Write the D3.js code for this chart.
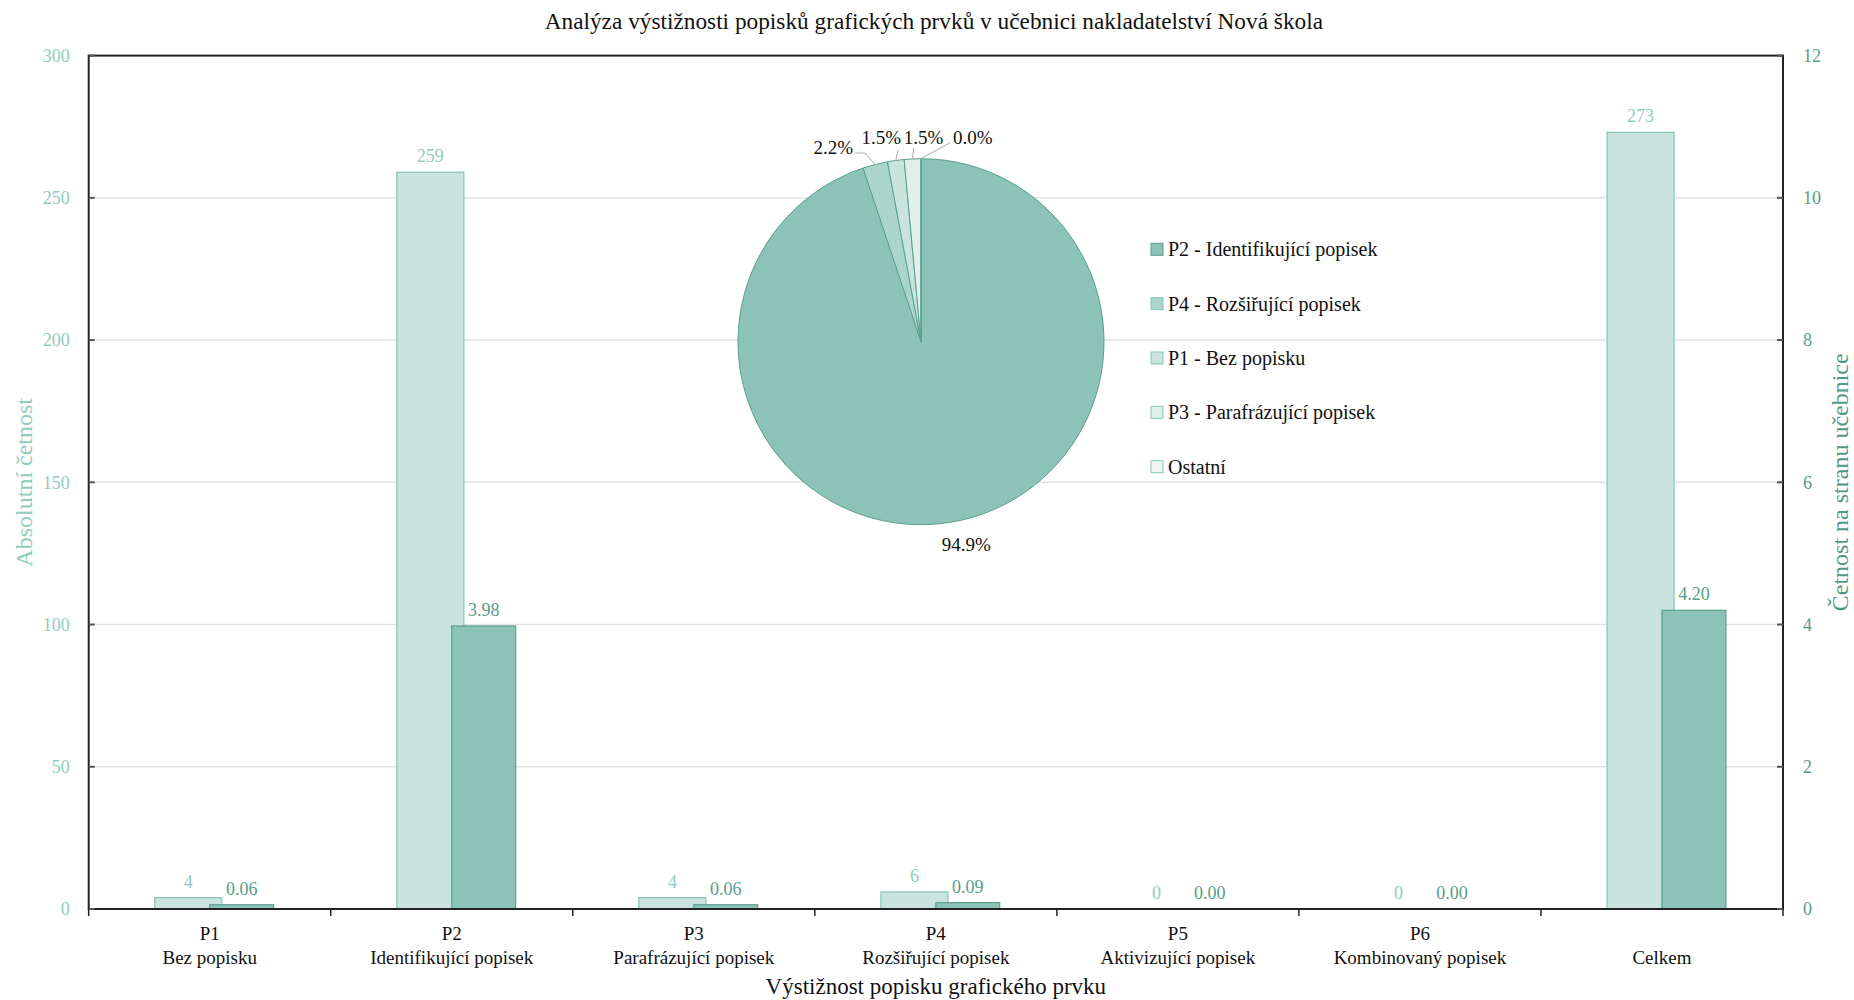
<!DOCTYPE html>
<html>
<head>
<meta charset="utf-8">
<script src="https://cdn.jsdelivr.net/npm/d3@7"></script>
<style>
  html, body { margin: 0; padding: 0; background: #ffffff; }
  svg { display: block; font-family: "Liberation Serif", "DejaVu Serif", serif; }
</style>
</head>
<body>
<svg id="chart" width="1854" height="1000"></svg>
<script>
// ---------------- DATA ----------------
const codes = ["P1", "P2", "P3", "P4", "P5", "P6", ""];
const names = ["Bez popisku", "Identifikující popisek", "Parafrázující popisek", "Rozšiřující popisek", "Aktivizující popisek", "Kombinovaný popisek", "Celkem"];
const absCounts = [4, 259, 4, 6, 0, 0, 273];
const perPage = [0.06, 3.98, 0.06, 0.09, 0.00, 0.00, 4.20];
const leftTicks = [0, 50, 100, 150, 200, 250, 300];
const rightTicks = [0, 2, 4, 6, 8, 10, 12];

const pieLabels = ["P2 - Identifikující popisek", "P4 - Rozšiřující popisek", "P1 - Bez popisku", "P3 - Parafrázující popisek", "Ostatní"];
const pieValues = [259, 6, 4, 4, 0];

const title = "Analýza výstižnosti popisků grafických prvků v učebnici nakladatelství Nová škola";
const xTitle = "Výstižnost popisku grafického prvku";
const yLeftTitle = "Absolutní četnost";
const yRightTitle = "Četnost na stranu učebnice";

// ---------------- STYLE ----------------
const W = 1854, H = 1000;
const M = { left: 88.7, right: 71, top: 55.6, bottom: 91 };
const lightFill = "#c9e4de", lightStroke = "#86c5b5", lightText = "#90cbbd";
const darkFill = "#8bc4b6", darkStroke = "#5b9f8c", darkText = "#579c89";
const pieColors = ["#8bc4b6", "#abd5ca", "#c8e4dd", "#dff0eb", "#eef7f4"];
const gridColor = "#e2e2e2";

const svg = d3.select("#chart");
const x0 = M.left, x1 = W - M.right, yTop = M.top, yBot = H - M.bottom;

const x = d3.scaleBand().domain(d3.range(codes.length)).range([x0, x1]).padding(0);
const yL = d3.scaleLinear().domain([0, 300]).range([yBot, yTop]);
const yR = d3.scaleLinear().domain([0, 12]).range([yBot, yTop]);
const bw = x.bandwidth();
const lightOff = -0.227 * bw, lightW = 0.277 * bw;
const darkOff = 0, darkW = 0.264 * bw;

// gridlines
svg.append("g").selectAll("line").data(leftTicks.filter(t => t > 0 && t < 300)).join("line")
  .attr("x1", x0).attr("x2", x1)
  .attr("y1", d => yL(d)).attr("y2", d => yL(d))
  .attr("stroke", gridColor).attr("stroke-width", 1.5);

// bars
const center = i => x(i) + bw / 2;
svg.append("g").selectAll("rect").data(absCounts).join("rect")
  .attr("x", (d, i) => center(i) + lightOff)
  .attr("width", lightW)
  .attr("y", d => yL(d))
  .attr("height", d => yBot - yL(d))
  .attr("fill", lightFill).attr("stroke", d => d > 0 ? lightStroke : "none").attr("stroke-width", 1.2);

svg.append("g").selectAll("rect").data(perPage).join("rect")
  .attr("x", (d, i) => center(i) + darkOff)
  .attr("width", darkW)
  .attr("y", d => yR(d))
  .attr("height", d => yBot - yR(d))
  .attr("fill", darkFill).attr("stroke", d => d > 0 ? darkStroke : "none").attr("stroke-width", 1.2);

// bar labels
svg.append("g").selectAll("text").data(absCounts).join("text")
  .attr("x", (d, i) => center(i) + lightOff + lightW / 2)
  .attr("y", d => yL(d) - 10)
  .attr("text-anchor", "middle").attr("font-size", 18).attr("fill", lightText)
  .text(d => d);
svg.append("g").selectAll("text").data(perPage).join("text")
  .attr("x", (d, i) => center(i) + darkOff + darkW / 2)
  .attr("y", d => yR(d) - 10)
  .attr("text-anchor", "middle").attr("font-size", 18).attr("fill", darkText)
  .text(d => d.toFixed(2));

// axes frame
const frame = svg.append("g");
frame.append("rect").attr("x", x0).attr("y", yTop).attr("width", x1 - x0).attr("height", yBot - yTop)
  .attr("fill", "none").attr("stroke", "#222").attr("stroke-width", 2);

// left axis ticks (inward)
const lt = frame.append("g");
lt.selectAll("line").data(leftTicks).join("line")
  .attr("x1", x0).attr("x2", x0 + 6).attr("y1", d => yL(d)).attr("y2", d => yL(d))
  .attr("stroke", "#555").attr("stroke-width", 2);
lt.selectAll("text").data(leftTicks).join("text")
  .attr("x", x0 - 19).attr("y", d => yL(d)).attr("dy", "0.35em")
  .attr("text-anchor", "end").attr("font-size", 18).attr("fill", lightText).text(d => d);

// right axis ticks (inward)
const rt = frame.append("g");
rt.selectAll("line").data(rightTicks).join("line")
  .attr("x1", x1 - 6).attr("x2", x1).attr("y1", d => yR(d)).attr("y2", d => yR(d))
  .attr("stroke", "#555").attr("stroke-width", 2);
rt.selectAll("text").data(rightTicks).join("text")
  .attr("x", x1 + 20).attr("y", d => yR(d)).attr("dy", "0.35em")
  .attr("text-anchor", "start").attr("font-size", 18).attr("fill", darkText).text(d => d);

// bottom ticks at band boundaries
const bounds = d3.range(codes.length + 1).map(i => x0 + i * bw);
frame.append("g").selectAll("line").data(bounds).join("line")
  .attr("x1", d => d).attr("x2", d => d).attr("y1", yBot).attr("y2", yBot + 7)
  .attr("stroke", "#222").attr("stroke-width", 1.5);

// category labels
const cat = svg.append("g").selectAll("g").data(codes).join("g");
cat.append("text").attr("x", (d, i) => center(i)).attr("y", yBot + 31)
  .attr("text-anchor", "middle").attr("font-size", 19).attr("fill", "#111").text(d => d);
cat.append("text").attr("x", (d, i) => center(i)).attr("y", yBot + 55)
  .attr("text-anchor", "middle").attr("font-size", 19).attr("fill", "#111").text((d, i) => names[i]);

// titles
svg.append("text").attr("x", (x0 + x1) / 2 - 2).attr("y", 29).attr("text-anchor", "middle")
  .attr("font-size", 23.3).attr("fill", "#111").text(title);
svg.append("text").attr("x", (x0 + x1) / 2).attr("y", 994).attr("text-anchor", "middle")
  .attr("font-size", 23).attr("fill", "#111").text(xTitle);
svg.append("text").attr("transform", `translate(32, ${(yTop + yBot) / 2}) rotate(-90)`)
  .attr("text-anchor", "middle").attr("font-size", 24).attr("fill", lightText).text(yLeftTitle);
svg.append("text").attr("transform", `translate(1848, ${(yTop + yBot) / 2}) rotate(-90)`)
  .attr("text-anchor", "middle").attr("font-size", 24).attr("fill", "#4f9885").text(yRightTitle);

// ---------------- PIE ----------------
const pcx = 921, pcy = 341.7, pr = 183;
const pie = d3.pie().sort(null).value(d => d)(pieValues);
const arc = d3.arc().innerRadius(0).outerRadius(pr);
const pg = svg.append("g").attr("transform", `translate(${pcx},${pcy})`);
pg.selectAll("path").data(pie).join("path")
  .attr("d", arc).attr("fill", (d, i) => pieColors[i])
  .attr("stroke", darkStroke).attr("stroke-width", 1);

const total = d3.sum(pieValues);
// label layout relative to the arc mid-point
const pieLabelLayout = [
  { line: false, tx: 16, ty: 29, anchor: "middle" },
  { line: true, ex: -10, ey: -11.5, fx: -20, fy: -11.5, tx: -22, ty: -10.5, anchor: "end" },
  { line: true, ex: 2, ey: -10, fx: 2, fy: -10, tx: -14.5, ty: -16.4, anchor: "middle" },
  { line: true, ex: 1, ey: -11, fx: 1, fy: -11, tx: 11, ty: -15, anchor: "middle" },
  { line: true, ex: 29, ey: -16, fx: 29, fy: -16, tx: 32, ty: -14.7, anchor: "start" }
];
pie.forEach((d, i) => {
  const a = (d.startAngle + d.endAngle) / 2;
  const px = Math.sin(a) * pr, py = -Math.cos(a) * pr;
  const L = pieLabelLayout[i];
  if (L.line) {
    pg.append("polyline")
      .attr("points", `${px},${py} ${px + L.ex},${py + L.ey} ${px + L.fx},${py + L.fy}`)
      .attr("fill", "none").attr("stroke", "#aaaaaa").attr("stroke-width", 1);
  }
  pg.append("text").attr("x", px + L.tx).attr("y", py + L.ty)
    .attr("text-anchor", L.anchor).attr("font-size", 19).attr("fill", "#111")
    .text((100 * d.data / total).toFixed(1) + "%");
});

// legend
const lgx = 1151, lgy = 249.3, lgStep = 54.35;
const lg = svg.append("g").selectAll("g").data(pieLabels).join("g")
  .attr("transform", (d, i) => `translate(${lgx},${lgy + i * lgStep})`);
lg.append("rect").attr("x", 0).attr("y", -6).attr("width", 12).attr("height", 12)
  .attr("fill", (d, i) => pieColors[i]).attr("stroke", (d, i) => i === 0 ? darkStroke : lightStroke).attr("stroke-width", 1);
lg.append("text").attr("x", 17).attr("y", 0).attr("dy", "0.35em")
  .attr("font-size", 20).attr("fill", "#111").text(d => d);
</script>
</body>
</html>
